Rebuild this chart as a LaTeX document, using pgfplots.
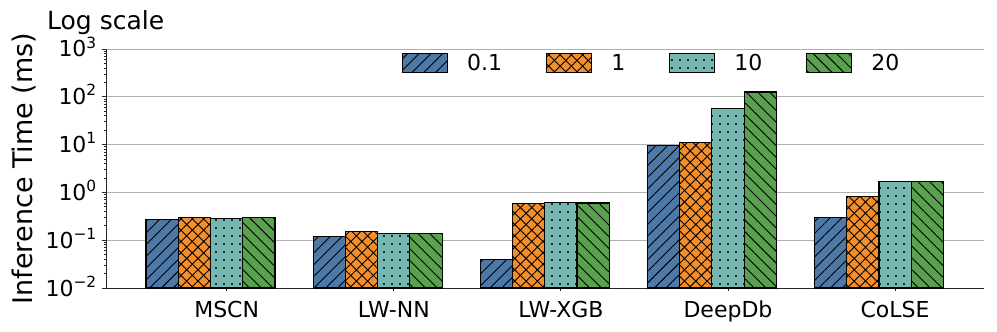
\documentclass[border=0pt]{standalone}
\usepackage{fontspec}
\setmainfont{DejaVu Sans}
\usepackage{pgfplots}
\pgfplotsset{compat=1.18}
\usetikzlibrary{patterns.meta}
\definecolor{cA}{HTML}{4E79A7}
\definecolor{cB}{HTML}{F28E2B}
\definecolor{cC}{HTML}{76B7B2}
\definecolor{cD}{HTML}{59A14F}
\definecolor{gridc}{HTML}{B0B0B0}

\newcommand{\sci}[1]{10\raisebox{0.40em}{\fontsize{15.4}{16}\selectfont #1}}

\begin{document}
\begin{tikzpicture}
\begin{axis}[
    at={(0pt,0pt)}, anchor=south west,
    width=878pt, height=239pt, scale only axis,
    ymode=log, ymin=1e-2, ymax=1e3, log origin=infty,
    xmin=-0.722, xmax=4.532,
    ybar, bar width=0.193,
    axis x line*=bottom, axis y line*=left,
    axis line style={black!85, line width=0.8pt},
    every tick/.style={black!85, line width=0.8pt},
    tick align=outside, major tick length=3.5pt, minor tick length=2pt,
    ymajorgrids, major grid style={draw=gridc, line width=0.8pt},
    xtick={0,1,2,3,4},
    xticklabels={MSCN,LW-NN,LW-XGB,DeepDb,CoLSE},
    xticklabel style={font=\fontsize{22}{26}\selectfont, anchor=base, inner sep=0pt, yshift=-26pt},
    ytick={1e-2,1e-1,1,1e1,1e2,1e3},
    yticklabels={\sci{−2},\sci{−1},\sci{0},\sci{1},\sci{2},\sci{3}},
    yticklabel style={font=\fontsize{22}{26}\selectfont, anchor=base east, inner sep=0pt, yshift=-8pt, xshift=-6pt},
    ylabel={Inference Time (ms)},
    every axis y label/.style={at={(axis description cs:-0.0797,0.5)}, rotate=90, anchor=south, inner sep=0pt, font=\fontsize{27}{32}\selectfont},
    every axis plot/.append style={draw=black, line width=1.1pt},
    legend columns=4,
    legend style={draw=none, fill=none, inner sep=0pt, at={(axis description cs:0.337,0.941)}, anchor=west,
        font=\fontsize{22}{26}\selectfont, nodes={inner sep=0pt},
        /tikz/every odd column/.append style={column sep=19pt},
        /tikz/every even column/.append style={column sep=44pt}},
    legend image code/.code={\draw[#1] (0pt,-9.5pt) rectangle (45pt,9.5pt);},
]
\addplot[fill=cA, bar shift=-0.386,
    postaction={pattern={Lines[angle=45,distance=8.3pt,line width=0.9pt]}, pattern color=black}]
    coordinates {(0,0.27) (1,0.119) (2,0.040) (3,9.7) (4,0.30)};
\addplot[fill=cB, bar shift=-0.193,
    postaction={pattern={Hatch[angle=45,distance=8pt,line width=0.9pt]}, pattern color=black}]
    coordinates {(0,0.30) (1,0.152) (2,0.58) (3,10.9) (4,0.82)};
\addplot[fill=cC, bar shift=0,
    postaction={pattern={Dots[distance=8pt,radius=1.2pt]}, pattern color=black}]
    coordinates {(0,0.29) (1,0.138) (2,0.62) (3,56.6) (4,1.67)};
\addplot[fill=cD, bar shift=0.193,
    postaction={pattern={Lines[angle=-45,distance=8.3pt,line width=0.9pt]}, pattern color=black}]
    coordinates {(0,0.30) (1,0.14) (2,0.60) (3,126) (4,1.67)};
\legend{0.1,1,10,20}
\end{axis}
\node[anchor=base west, inner sep=0pt, font=\fontsize{25}{30}\selectfont] at (-59pt,258pt) {Log scale};
\pgfresetboundingbox
\path[use as bounding box] (-106pt,-44pt) rectangle (891pt,288pt);
\end{tikzpicture}
\end{document}
